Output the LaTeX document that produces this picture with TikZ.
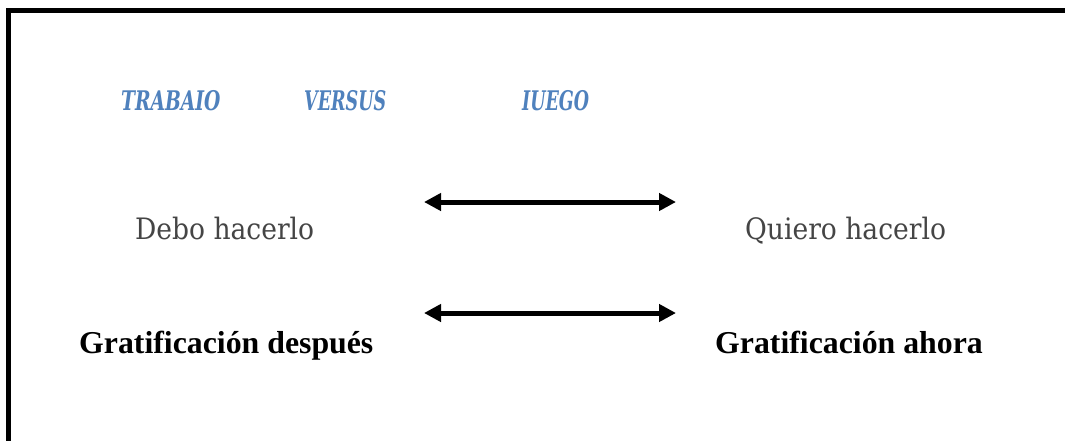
\documentclass[tikz,border=0pt]{standalone}
\usepackage{fontspec}
\setmainfont{Liberation Serif}
\newfontfamily\camb{DejaVu Serif Condensed}
\usetikzlibrary{arrows.meta}
\definecolor{wordblue}{HTML}{4F81BD}
\definecolor{txtgray}{HTML}{454545}
\newcommand{\narrow}[2][0.77]{\scalebox{#1}[1]{#2}}
\tikzset{
  title/.style={inner sep=0pt, anchor=base west, text=wordblue, font=\camb\bfseries\itshape\fontsize{27}{27}\selectfont},
  plain/.style={inner sep=0pt, anchor=base west, text=txtgray, font=\camb\fontsize{29.5}{29.5}\selectfont},
  bold/.style={inner sep=0pt, anchor=base west, text=black, font=\bfseries\fontsize{31.8}{31.8}\selectfont},
  dbl/.style={line width=5pt, {Triangle[length=17pt,width=17pt]}-{Triangle[length=17pt,width=17pt]}}
}
\begin{document}
\begin{tikzpicture}[x=1pt,y=-1pt]
\useasboundingbox (0,0) rectangle (1065,440);
\fill[white] (0,0) rectangle (1065,440);
\draw[line width=5pt] (8.5,445) -- (8.5,10.5) -- (1070,10.5);
\node[title] (trabajo) at (121,110) {\narrow{TRABAIO}};
\node[title] (versus) at (304,110) {\narrow[0.72]{VERSUS}};
\node[title] (juego) at (522,110) {\narrow[0.72]{IUEGO}};
\node[plain] (debo) at (135,239) {Debo hacerlo};
\node[plain] (quiero) at (745,239) {Quiero hacerlo};
\node[bold] (gdes) at (79,353) {Gratificación después};
\node[bold] (gah) at (715,353) {Gratificación ahora};
\coordinate (a1l) at (424,202);
\coordinate (a1r) at (676,202);
\coordinate (a2l) at (424,313);
\coordinate (a2r) at (676,313);
\draw[dbl] (a1l) -- (a1r);
\draw[dbl] (a2l) -- (a2r);
\end{tikzpicture}
\end{document}
